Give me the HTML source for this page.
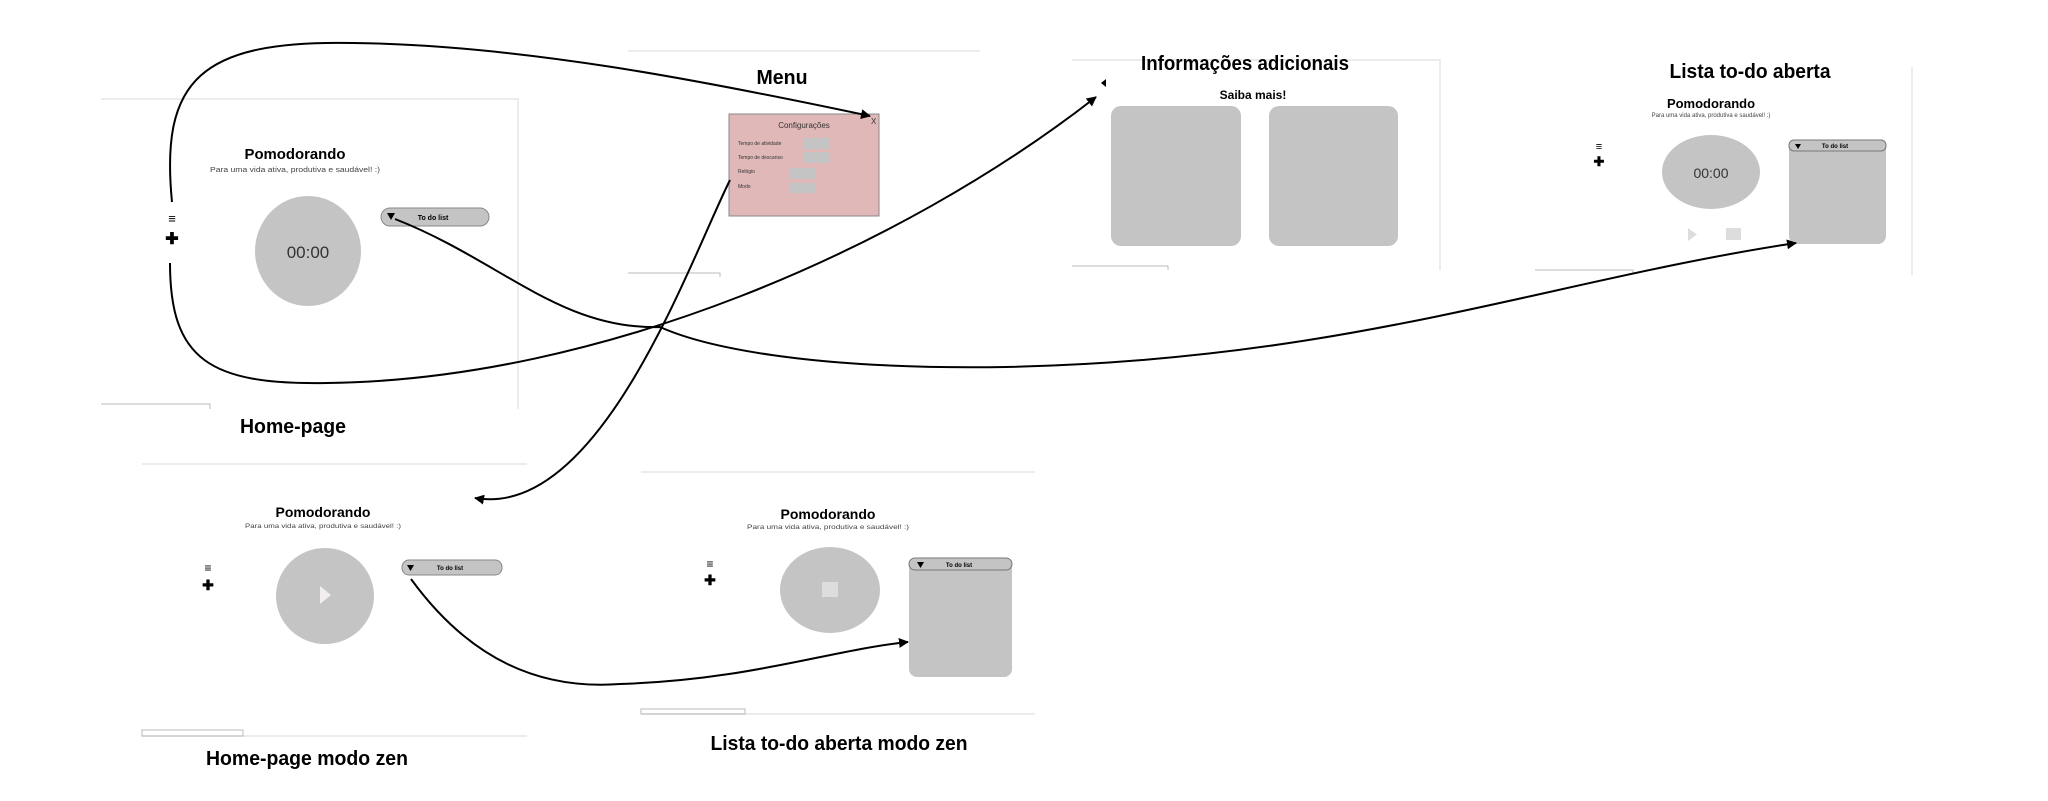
<!DOCTYPE html>
<html><head><meta charset="utf-8"><style>
html,body{margin:0;padding:0;background:#fff;}
svg{display:block;}
text{font-family:"Liberation Sans",sans-serif;}
</style></head><body>
<svg width="2048" height="801" viewBox="0 0 2048 801" xmlns="http://www.w3.org/2000/svg">
<defs>
<marker id="a" markerWidth="10" markerHeight="10" refX="9" refY="5" orient="auto" markerUnits="userSpaceOnUse"><path d="M0,0 L10,5 L0,10 z" fill="#000"/></marker>
</defs>
<g stroke="#ececec" stroke-width="2" fill="none">
<path d="M101,99 H518 V409"/>
<path d="M628,51 H980"/>
<path d="M1072,60 H1440 V270"/>
<path d="M1912,67 V275"/>
<path d="M142,464 H527"/>
<path d="M142,736 H527"/>
<path d="M641,472 H1035"/>
<path d="M641,714 H1035"/>
</g>
<g stroke="#bbb" stroke-width="1" fill="none">
<path d="M101,404 H210 V409"/>
<path d="M628,273 H720 V277"/>
<path d="M1072,266 H1168 V270"/>
<path d="M1535,270 H1633 V274"/>
<rect x="142" y="730" width="101" height="6"/>
<rect x="641" y="709" width="104" height="5"/>
</g>
<g font-weight="bold" font-size="20" text-anchor="middle" fill="#000" lengthAdjust="spacingAndGlyphs">
<text x="293" y="433" textLength="106" lengthAdjust="spacingAndGlyphs">Home-page</text>
<text x="782" y="84" textLength="51" lengthAdjust="spacingAndGlyphs">Menu</text>
<text x="1245" y="70" textLength="208" lengthAdjust="spacingAndGlyphs">Informações adicionais</text>
<text x="1750" y="78" textLength="161" lengthAdjust="spacingAndGlyphs">Lista to-do aberta</text>
<text x="307" y="765" textLength="202" lengthAdjust="spacingAndGlyphs">Home-page modo zen</text>
<text x="839" y="750" textLength="257" lengthAdjust="spacingAndGlyphs">Lista to-do aberta modo zen</text>
</g>
<!-- Home page -->
<text x="295" y="159" font-size="15" font-weight="bold" text-anchor="middle" textLength="101" lengthAdjust="spacingAndGlyphs">Pomodorando</text>
<text x="295" y="172" font-size="7" text-anchor="middle" fill="#444" textLength="170" lengthAdjust="spacingAndGlyphs">Para uma vida ativa, produtiva e saudável! :)</text>
<ellipse cx="308" cy="251" rx="53" ry="55" fill="#c4c4c4"/>
<text x="308" y="258" font-size="17" text-anchor="middle" font-family="Liberation Mono" fill="#333">00:00</text>
<rect x="381" y="208" width="108" height="18" rx="9" fill="#c4c4c4" stroke="#888"/>
<path d="M387,213 h8 l-4,7z" fill="#000"/>
<text x="433" y="220" font-size="7" font-weight="bold" text-anchor="middle">To do list</text>
<text x="172" y="223" font-size="13" text-anchor="middle">≡</text>
<text x="172" y="244" font-size="16" font-weight="bold" text-anchor="middle">✚</text>
<!-- Menu config -->
<rect x="729" y="114" width="150" height="102" fill="#e0b8b8" stroke="#888"/>
<text x="804" y="128" font-size="8" text-anchor="middle" fill="#333">Configurações</text>
<text x="871" y="124" font-size="8" fill="#333">X</text>
<g font-size="5" fill="#333"><text x="738" y="145">Tempo de atividade</text><text x="738" y="159">Tempo de descanso</text><text x="738" y="173">Relógio</text><text x="738" y="188">Modo</text></g>
<g fill="#c4c4c4"><rect x="804" y="138" width="26" height="11"/><rect x="804" y="152" width="26" height="11"/><rect x="789" y="168" width="27" height="11"/><rect x="789" y="183" width="27" height="10"/></g>
<!-- Info -->
<path d="M1106,79 v8 l-5,-4z" fill="#000"/>
<text x="1253" y="99" font-size="12" font-weight="bold" text-anchor="middle">Saiba mais!</text>
<rect x="1111" y="106" width="130" height="140" rx="10" fill="#c4c4c4"/>
<rect x="1269" y="106" width="129" height="140" rx="10" fill="#c4c4c4"/>
<!-- Lista aberta -->
<text x="1711" y="108" font-size="13" font-weight="bold" text-anchor="middle">Pomodorando</text>
<text x="1711" y="117" font-size="6" text-anchor="middle" fill="#444">Para uma vida ativa, produtiva e saudável! :)</text>
<ellipse cx="1711" cy="172" rx="49" ry="37" fill="#c4c4c4"/>
<text x="1711" y="178" font-size="14" text-anchor="middle" font-family="Liberation Mono" fill="#333">00:00</text>
<text x="1599" y="150" font-size="11" text-anchor="middle">≡</text>
<text x="1599" y="166" font-size="13" font-weight="bold" text-anchor="middle">✚</text>
<rect x="1789" y="140" width="97" height="104" rx="8" fill="#c4c4c4"/>
<rect x="1789" y="140" width="97" height="11" rx="5" fill="#c4c4c4" stroke="#777"/>
<path d="M1795,144 h6 l-3,5z" fill="#000"/>
<text x="1835" y="148" font-size="6" font-weight="bold" text-anchor="middle">To do list</text>
<path d="M1688,228 v13 l9,-6.5z" fill="#ddd"/>
<rect x="1726" y="228" width="15" height="12" fill="#ddd"/>
<!-- Home zen -->
<text x="323" y="517" font-size="14" font-weight="bold" text-anchor="middle">Pomodorando</text>
<text x="323" y="528" font-size="6" text-anchor="middle" fill="#444" textLength="156" lengthAdjust="spacingAndGlyphs">Para uma vida ativa, produtiva e saudável! :)</text>
<ellipse cx="325" cy="596" rx="49" ry="48" fill="#c4c4c4"/>
<path d="M320,586 v18 l11,-9z" fill="#f3eeee"/>
<rect x="402" y="560" width="100" height="15" rx="7" fill="#c4c4c4" stroke="#888"/>
<path d="M407,565 h7 l-3.5,6z" fill="#000"/>
<text x="450" y="570" font-size="6" font-weight="bold" text-anchor="middle">To do list</text>
<text x="208" y="572" font-size="12" text-anchor="middle">≡</text>
<text x="208" y="590" font-size="14" font-weight="bold" text-anchor="middle">✚</text>
<!-- List zen -->
<text x="828" y="519" font-size="14" font-weight="bold" text-anchor="middle">Pomodorando</text>
<text x="828" y="529" font-size="6" text-anchor="middle" fill="#444" textLength="162" lengthAdjust="spacingAndGlyphs">Para uma vida ativa, produtiva e saudável! :)</text>
<ellipse cx="830" cy="590" rx="50" ry="43" fill="#c4c4c4"/>
<rect x="822" y="582" width="16" height="15" fill="#ddd"/>
<rect x="909" y="558" width="103" height="119" rx="8" fill="#c4c4c4"/>
<rect x="909" y="558" width="103" height="12" rx="6" fill="#c4c4c4" stroke="#777"/>
<path d="M917,562 h7 l-3.5,6z" fill="#000"/>
<text x="959" y="567" font-size="6" font-weight="bold" text-anchor="middle">To do list</text>
<text x="710" y="568" font-size="12" text-anchor="middle">≡</text>
<text x="710" y="585" font-size="14" font-weight="bold" text-anchor="middle">✚</text>
<!-- connectors -->
<g fill="none" stroke="#000" stroke-width="2" marker-end="url(#a)">
<path d="M172,202 C160,80 200,40 353,43 C520,45 700,80 870,116"/>
<path d="M170,263 C170,360 210,385 327,383 C600,380 900,250 1096,97"/>
<path d="M395,219 C500,260 560,330 660,327 C700,345 800,370 1006,367 C1350,360 1550,280 1796,243"/>
<path d="M730,180 C690,260 600,520 475,498"/>
<path d="M411,579 C470,660 540,690 620,684 C750,680 830,650 908,642"/>
</g>
</svg>
</body></html>
